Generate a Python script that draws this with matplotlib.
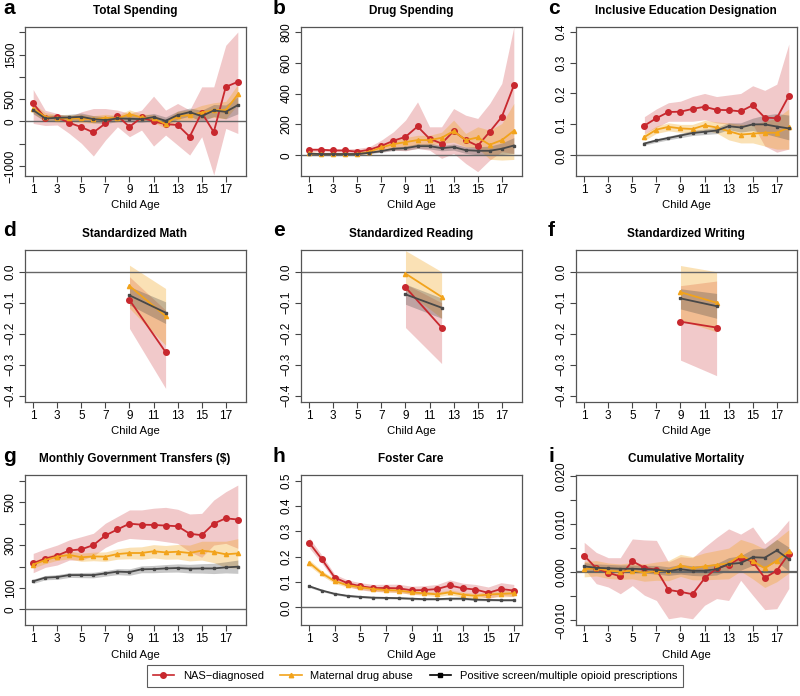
import matplotlib
matplotlib.use('Agg')
import matplotlib.pyplot as plt
from matplotlib.lines import Line2D

plt.rcParams['font.family'] = ['Liberation Sans', 'DejaVu Sans']

ages = list(range(1, 19))
ages_c = list(range(6, 19))
ages_test = [9, 12]
ages_h = list(range(1, 18))

# a: total spending
tot_nas = [403, 80, 90, -30, -127, -246, -45, 127, -120, 90, 0, -60, -80, -343, 200, -240, 776, 888]
tot_nas_hi = [716, 250, 180, 100, 216, 290, 290, 254, 180, 254, 567, 254, 403, 254, 776, 776, 1709, 2007]
tot_nas_lo = [-45, -90, -80, -270, -490, -776, -418, -120, -343, -194, -552, -306, -530, -754, -343, -1200, -157, -270]
tot_mat = [290, 104, 67, 67, 67, 45, 82, 67, 164, 90, 67, -60, 120, 142, 200, 254, 254, 605]
tot_mat_hi = [400, 200, 150, 150, 160, 130, 160, 140, 260, 170, 150, 30, 230, 260, 360, 420, 450, 830]
tot_mat_lo = [180, 10, -10, -10, -20, -40, 0, -10, 70, 10, -20, -150, 20, 30, 60, 90, 60, 380]
tot_pos = [254, 67, 82, 90, 104, 52, 30, 67, 60, 52, 97, 15, 142, 209, 120, 246, 216, 366]
tot_pos_hi = [340, 140, 150, 160, 190, 130, 110, 140, 130, 130, 180, 100, 230, 300, 250, 380, 370, 560]
tot_pos_lo = [170, 0, 20, 30, 20, -30, -50, 0, -10, -20, 20, -70, 50, 120, 0, 110, 60, 170]

# b: drug spending
drug_nas = [37, 37, 32, 32, 24, 37, 62, 95, 120, 187, 108, 77, 157, 99, 62, 153, 249, 452]
drug_nas_hi = [45, 45, 43, 42, 45, 56, 99, 153, 228, 346, 185, 185, 303, 260, 239, 336, 465, 830]
drug_nas_lo = [24, 24, 22, 22, 6, 13, 24, 34, 30, 45, 34, -19, 13, -52, -105, -30, 24, 13]
drug_mat = [13, 9, 9, 9, 9, 24, 52, 73, 86, 99, 99, 114, 157, 99, 116, 69, 99, 159]
drug_mat_hi = [20, 15, 15, 15, 16, 33, 68, 95, 115, 130, 130, 150, 228, 142, 185, 163, 206, 336]
drug_mat_lo = [6, 3, 3, 3, 2, 15, 36, 51, 57, 68, 68, 78, 86, 56, 47, -25, -30, -26]
drug_pos = [11, 9, 9, 9, 9, 17, 28, 43, 47, 60, 60, 47, 54, 34, 30, 30, 43, 64]
drug_pos_hi = [14, 12, 12, 12, 12, 22, 36, 54, 60, 76, 78, 64, 74, 55, 56, 60, 80, 115]
drug_pos_lo = [8, 6, 6, 6, 6, 12, 20, 32, 34, 44, 42, 30, 34, 13, 4, 0, 6, 13]

# c: inclusive education (ages 6-18)
edu_nas = [0.096, 0.120, 0.140, 0.141, 0.150, 0.157, 0.147, 0.146, 0.142, 0.162, 0.122, 0.120, 0.192]
edu_nas_hi = [0.125, 0.150, 0.170, 0.175, 0.190, 0.200, 0.190, 0.195, 0.200, 0.225, 0.210, 0.230, 0.360]
edu_nas_lo = [0.070, 0.090, 0.110, 0.110, 0.110, 0.115, 0.105, 0.100, 0.090, 0.100, 0.030, 0.010, 0.020]
edu_mat = [0.059, 0.083, 0.092, 0.087, 0.085, 0.097, 0.090, 0.078, 0.067, 0.070, 0.073, 0.073, 0.090]
edu_mat_hi = [0.070, 0.095, 0.105, 0.100, 0.100, 0.113, 0.108, 0.105, 0.100, 0.100, 0.110, 0.120, 0.150]
edu_mat_lo = [0.048, 0.071, 0.079, 0.074, 0.070, 0.081, 0.072, 0.050, 0.040, 0.040, 0.030, 0.020, 0.020]
edu_pos = [0.038, 0.048, 0.056, 0.064, 0.072, 0.076, 0.080, 0.094, 0.090, 0.100, 0.100, 0.093, 0.087]
edu_pos_hi = [0.043, 0.054, 0.062, 0.071, 0.080, 0.085, 0.090, 0.105, 0.105, 0.120, 0.130, 0.135, 0.130]
edu_pos_lo = [0.033, 0.042, 0.050, 0.057, 0.064, 0.067, 0.070, 0.083, 0.075, 0.080, 0.070, 0.060, 0.050]

# d: math
math_nas = [-0.091, -0.259]
math_nas_hi = [-0.016, -0.124]
math_nas_lo = [-0.183, -0.376]
math_mat = [-0.046, -0.143]
math_mat_hi = [0.021, -0.054]
math_mat_lo = [-0.118, -0.237]
math_pos = [-0.076, -0.132]
math_pos_hi = [-0.048, -0.097]
math_pos_lo = [-0.107, -0.167]

# e: reading
read_nas = [-0.050, -0.180]
read_nas_hi = [-0.040, -0.100]
read_nas_lo = [-0.180, -0.296]
read_mat = [-0.006, -0.081]
read_mat_hi = [0.068, 0.000]
read_mat_lo = [-0.060, -0.150]
read_pos = [-0.073, -0.116]
read_pos_hi = [-0.040, -0.085]
read_pos_lo = [-0.105, -0.150]

# f: writing
writ_nas = [-0.161, -0.180]
writ_nas_hi = [-0.045, -0.030]
writ_nas_lo = [-0.285, -0.335]
writ_mat = [-0.066, -0.100]
writ_mat_hi = [0.020, 0.000]
writ_mat_lo = [-0.156, -0.194]
writ_pos = [-0.086, -0.111]
writ_pos_hi = [-0.055, -0.070]
writ_pos_lo = [-0.120, -0.150]

# g: monthly government transfers
gov_nas = [215, 237, 251, 275, 280, 300, 345, 373, 400, 395, 394, 391, 388, 353, 346, 400, 425, 419]
gov_nas_hi = [261, 282, 300, 324, 339, 355, 402, 433, 464, 464, 472, 476, 467, 445, 448, 510, 549, 580]
gov_nas_lo = [171, 196, 207, 230, 230, 249, 289, 316, 331, 327, 324, 316, 308, 269, 243, 300, 308, 285]
gov_mat = [209, 230, 246, 254, 243, 247, 246, 258, 263, 263, 271, 266, 269, 263, 274, 268, 257, 261]
gov_mat_hi = [225, 247, 263, 273, 262, 267, 268, 282, 290, 292, 302, 298, 303, 300, 318, 318, 318, 330]
gov_mat_lo = [193, 213, 229, 235, 224, 227, 224, 234, 236, 234, 240, 234, 235, 226, 230, 218, 196, 192]
gov_pos = [131, 148, 151, 160, 160, 160, 168, 176, 174, 187, 188, 191, 193, 190, 191, 191, 196, 199]
gov_pos_hi = [141, 158, 162, 171, 172, 173, 181, 190, 189, 203, 205, 209, 212, 210, 213, 215, 222, 230]
gov_pos_lo = [121, 138, 140, 149, 148, 147, 155, 162, 159, 171, 171, 173, 174, 170, 169, 167, 170, 168]

# h: foster care (ages 1-17)
fos_nas = [0.255, 0.189, 0.117, 0.095, 0.083, 0.076, 0.076, 0.075, 0.067, 0.068, 0.072, 0.086, 0.075, 0.070, 0.057, 0.072, 0.066]
fos_nas_hi = [0.275, 0.205, 0.130, 0.108, 0.097, 0.090, 0.091, 0.091, 0.083, 0.085, 0.090, 0.108, 0.095, 0.090, 0.080, 0.097, 0.090]
fos_nas_lo = [0.235, 0.173, 0.104, 0.082, 0.069, 0.062, 0.061, 0.059, 0.051, 0.051, 0.054, 0.064, 0.055, 0.050, 0.034, 0.047, 0.042]
fos_mat = [0.176, 0.134, 0.103, 0.087, 0.079, 0.072, 0.068, 0.066, 0.059, 0.055, 0.051, 0.059, 0.050, 0.045, 0.050, 0.053, 0.055]
fos_mat_hi = [0.188, 0.144, 0.112, 0.095, 0.087, 0.080, 0.076, 0.074, 0.067, 0.063, 0.060, 0.069, 0.060, 0.055, 0.061, 0.065, 0.068]
fos_mat_lo = [0.164, 0.124, 0.094, 0.079, 0.071, 0.064, 0.060, 0.058, 0.051, 0.047, 0.042, 0.049, 0.040, 0.035, 0.039, 0.041, 0.042]
fos_pos = [0.083, 0.066, 0.053, 0.045, 0.041, 0.038, 0.037, 0.036, 0.034, 0.032, 0.032, 0.034, 0.034, 0.030, 0.029, 0.028, 0.028]
fos_pos_hi = [0.088, 0.070, 0.057, 0.049, 0.045, 0.042, 0.041, 0.040, 0.038, 0.036, 0.036, 0.038, 0.038, 0.034, 0.033, 0.032, 0.032]
fos_pos_lo = [0.078, 0.062, 0.049, 0.041, 0.037, 0.034, 0.033, 0.032, 0.030, 0.028, 0.028, 0.030, 0.030, 0.026, 0.025, 0.024, 0.024]

# i: cumulative mortality
mort_nas = [0.00345, 0.0008, -0.0001, -0.0009, 0.0023, 0.0009, 0.0005, -0.0037, -0.0041, -0.0046, -0.0013, 0.0008, 0.0015, 0.0030, 0.0022, -0.0012, 0.0003, 0.0038]
mort_nas_hi = [0.0062, 0.0041, 0.0030, 0.0030, 0.0069, 0.0067, 0.0066, 0.0021, 0.0032, 0.0030, 0.0052, 0.0072, 0.0090, 0.0079, 0.0094, 0.0059, 0.0079, 0.0108]
mort_nas_lo = [0.0007, -0.0024, -0.0031, -0.0045, -0.0028, -0.0048, -0.0059, -0.0097, -0.0093, -0.0097, -0.0069, -0.0055, -0.0059, -0.0017, -0.0048, -0.0078, -0.0076, -0.0034]
mort_mat = [0.0006, 0.0008, 0.0003, 0.0001, 0.0003, -0.0001, 0.0002, 0.0003, 0.0014, 0.0008, 0.0012, 0.0015, 0.0018, 0.0035, 0.0023, 0.0008, 0.0024, 0.0043]
mort_mat_hi = [0.0022, 0.0024, 0.0019, 0.0017, 0.0020, 0.0017, 0.0021, 0.0024, 0.0037, 0.0032, 0.0040, 0.0045, 0.0050, 0.0068, 0.0060, 0.0048, 0.0068, 0.0088]
mort_mat_lo = [-0.0010, -0.0008, -0.0013, -0.0015, -0.0014, -0.0019, -0.0017, -0.0018, -0.0009, -0.0016, -0.0016, -0.0015, -0.0014, 0.0002, -0.0014, -0.0032, -0.0020, -0.0002]
mort_pos = [0.0012, 0.0009, 0.0008, 0.0007, 0.0007, 0.0006, 0.0005, 0.0002, 0.0006, 0.0003, 0.0003, 0.0006, 0.0017, 0.0019, 0.0031, 0.0030, 0.0045, 0.0027]
mort_pos_hi = [0.0020, 0.0017, 0.0016, 0.0015, 0.0015, 0.0014, 0.0014, 0.0011, 0.0016, 0.0013, 0.0014, 0.0018, 0.0030, 0.0034, 0.0048, 0.0050, 0.0068, 0.0052]
mort_pos_lo = [0.0004, 0.0001, 0.0000, -0.0001, -0.0001, -0.0002, -0.0004, -0.0007, -0.0004, -0.0007, -0.0008, -0.0006, 0.0004, 0.0004, 0.0014, 0.0010, 0.0022, 0.0002]

RED = '#C8282E'
ORANGE = '#F2A31B'
GRAY = '#484848'
M = '\u2212'

panels = [
    ('a', 'Total Spending', ages, [(tot_nas, tot_nas_lo, tot_nas_hi), (tot_mat, tot_mat_lo, tot_mat_hi), (tot_pos, tot_pos_lo, tot_pos_hi)],
     (-1224, 2119), [-1000, -500, 0, 500, 1000, 1500, 2000], [M + '1000', '', '0', '500', '', '1500', ''], False),
    ('b', 'Drug Spending', ages, [(drug_nas, drug_nas_lo, drug_nas_hi), (drug_mat, drug_mat_lo, drug_mat_hi), (drug_pos, drug_pos_lo, drug_pos_hi)],
     (-133, 830), [0, 200, 400, 600, 800], ['0', '200', '400', '600', '800'], False),
    ('c', 'Inclusive Education Designation', ages_c, [(edu_nas, edu_nas_lo, edu_nas_hi), (edu_mat, edu_mat_lo, edu_mat_hi), (edu_pos, edu_pos_lo, edu_pos_hi)],
     (-0.067, 0.415), [0, 0.1, 0.2, 0.3, 0.4], ['0.0', '0.1', '0.2', '0.3', '0.4'], False),
    ('d', 'Standardized Math', ages_test, [(math_nas, math_nas_lo, math_nas_hi), (math_mat, math_mat_lo, math_mat_hi), (math_pos, math_pos_lo, math_pos_hi)],
     (-0.42, 0.07), [-0.4, -0.3, -0.2, -0.1, 0.0], [M + '0.4', M + '0.3', M + '0.2', M + '0.1', '0.0'], False),
    ('e', 'Standardized Reading', ages_test, [(read_nas, read_nas_lo, read_nas_hi), (read_mat, read_mat_lo, read_mat_hi), (read_pos, read_pos_lo, read_pos_hi)],
     (-0.42, 0.07), [-0.4, -0.3, -0.2, -0.1, 0.0], [M + '0.4', M + '0.3', M + '0.2', M + '0.1', '0.0'], False),
    ('f', 'Standardized Writing', ages_test, [(writ_nas, writ_nas_lo, writ_nas_hi), (writ_mat, writ_mat_lo, writ_mat_hi), (writ_pos, writ_pos_lo, writ_pos_hi)],
     (-0.42, 0.07), [-0.4, -0.3, -0.2, -0.1, 0.0], [M + '0.4', M + '0.3', M + '0.2', M + '0.1', '0.0'], False),
    ('g', 'Monthly Government Transfers ($)', ages, [(gov_nas, gov_nas_lo, gov_nas_hi), (gov_mat, gov_mat_lo, gov_mat_hi), (gov_pos, gov_pos_lo, gov_pos_hi)],
     (-73, 627), [0, 100, 200, 300, 400, 500, 600], ['0', '100', '', '300', '', '500', ''], False),
    ('h', 'Foster Care', ages_h, [(fos_nas, fos_nas_lo, fos_nas_hi), (fos_mat, fos_mat_lo, fos_mat_hi), (fos_pos, fos_pos_lo, fos_pos_hi)],
     (-0.07, 0.522), [0, 0.1, 0.2, 0.3, 0.4, 0.5], ['0.0', '0.1', '0.2', '0.3', '0.4', '0.5'], True),
    ('i', 'Cumulative Mortality', ages, [(mort_nas, mort_nas_lo, mort_nas_hi), (mort_mat, mort_mat_lo, mort_mat_hi), (mort_pos, mort_pos_lo, mort_pos_hi)],
     (-0.011, 0.0202), [-0.01, -0.005, 0, 0.005, 0.01, 0.015, 0.02], [M + '0.010', '', '0.000', '', '0.010', '', '0.020'], False),
]

# colour, marker, marker size, band alpha
styles = [(RED, 'o', 4.0, 0.25), (ORANGE, '^', 3.0, 0.32), (GRAY, 's', 1.9, 0.3)]

W, H = 800, 696
fig = plt.figure(figsize=(8, 6.96), dpi=100)
col_left = [25, 301, 576]
letter_x = [3, 273, 548]
rows = [(27, 176), (250, 402), (475, 625)]

for k, (letter, title, x, series, ylim, yt, ytl, short) in enumerate(panels):
    r, c = divmod(k, 3)
    top, bot = rows[r]
    left = col_left[c]
    ax = fig.add_axes([left / W, 1 - bot / H, 221 / W, (bot - top) / H])
    for (mean, lo, hi), (col, mk, ms, al) in zip(series, styles):
        ax.fill_between(x, lo, hi, color=col, alpha=al, lw=0)
    ax.axhline(0, color='#666666', lw=1.6 if letter == 'i' else 1.0, zorder=2)
    for (mean, lo, hi), (col, mk, ms, al) in zip(series, styles):
        ax.plot(x, mean, color=col, marker=mk, ms=ms, lw=1.3, zorder=3)
    ax.set_xlim((0.36, 17.64) if short else (0.32, 18.68))
    ax.set_xticks(range(1, 18, 2))
    ax.set_ylim(ylim)
    ax.set_yticks(yt)
    ax.set_yticklabels(ytl, rotation=90, va='center')
    ax.tick_params(labelsize=8.5, length=4, width=0.8, color='#444444', pad=2)
    for s in ax.spines.values():
        s.set_color('#555555')
        s.set_linewidth(0.9)
    ax.set_xlabel('Child Age', fontsize=8.2, labelpad=3)
    cx = (left + 110) / W
    fig.text(cx, 1 - (top - 16) / H, title, ha='center', va='center',
             fontsize=8.5, fontweight='bold', family=['Liberation Sans Narrow', 'Liberation Sans'])
    fig.text(letter_x[c] / W, 1 - (top - 19) / H, letter, ha='left', va='center',
             fontsize=15, fontweight='bold')

handles = [Line2D([], [], color=RED, marker='o', ms=4.0, lw=1.2),
           Line2D([], [], color=ORANGE, marker='^', ms=3.2, lw=1.2),
           Line2D([], [], color='black', marker='s', ms=2.4, lw=1.2)]
labels = ['NAS\u2212diagnosed', 'Maternal drug abuse', 'Positive screen/multiple opioid prescriptions']
leg = fig.legend(handles, labels, loc='center', bbox_to_anchor=(415 / W, 1 - 676 / H), ncol=3,
                 fontsize=8, frameon=True, fancybox=False, edgecolor='#333333',
                 handlelength=1.9, handletextpad=0.8, columnspacing=1.5, borderpad=0.5)
leg.get_frame().set_linewidth(0.8)

fig.savefig('out.png', dpi=100)
